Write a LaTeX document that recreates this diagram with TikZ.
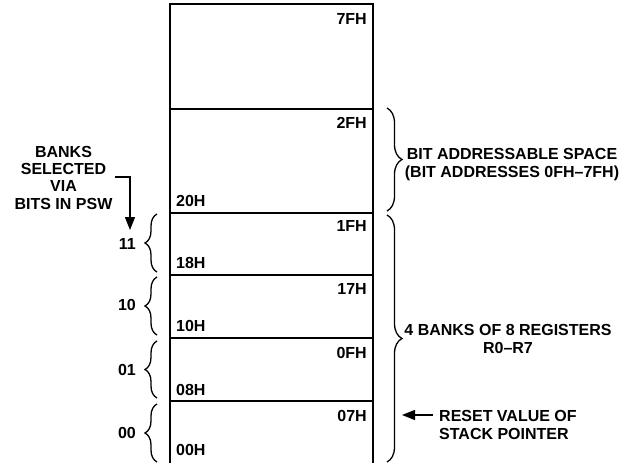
\documentclass[tikz,border=0pt]{standalone}
\usepackage{fontspec}
\setmainfont{Liberation Sans}
\usetikzlibrary{decorations.pathreplacing,arrows.meta}
\begin{document}
\begin{tikzpicture}[x=1pt,y=-1pt,
  lbl/.style={font=\fontsize{16}{17.3}\selectfont\bfseries, inner sep=0pt},
  wall/.style={line width=2.2pt},
  sep/.style={line width=1.5pt},
  brc/.style={line width=1.3pt, decorate, decoration={brace, amplitude=12pt}},
  rbrc/.style={line width=1.3pt, decorate, decoration={brace, amplitude=15pt}},
  arr/.style={line width=1.4pt, -{Triangle[length=13pt,width=10pt]}}]
\useasboundingbox (0,0) rectangle (635,463);
% memory column
\draw[wall] (170,470) -- (170,4) -- (373,4) -- (373,470);
\foreach \y in {109,213,275,338,401} \draw[sep] (170,\y) -- (373,\y);
% addresses
\node[lbl, anchor=base east] (a7f) at (367,24) {7FH};
\node[lbl, anchor=base east] (a2f) at (367,128) {2FH};
\node[lbl, anchor=base west] (a20) at (176,206) {20H};
\node[lbl, anchor=base east] (a1f) at (367,231) {1FH};
\node[lbl, anchor=base west] (a18) at (176,268) {18H};
\node[lbl, anchor=base east] (a17) at (367,294) {17H};
\node[lbl, anchor=base west] (a10) at (176,331) {10H};
\node[lbl, anchor=base east] (a0f) at (367,358) {0FH};
\node[lbl, anchor=base west] (a08) at (176,395) {08H};
\node[lbl, anchor=base east] (a07) at (367,421) {07H};
\node[lbl, anchor=base west] (a00) at (176,455) {00H};
% bank braces
\draw[brc] (157,272) -- (157,214);
\draw[brc] (157,335) -- (157,277);
\draw[brc] (157,398) -- (157,341);
\draw[brc] (157,462) -- (157,404);
\node[lbl, anchor=base east] (b11) at (136,249) {11};
\node[lbl, anchor=base east] (b10) at (136,310) {10};
\node[lbl, anchor=base east] (b01) at (136,375) {01};
\node[lbl, anchor=base east] (b00) at (136,438) {00};
% selection note
\node[lbl, align=center, anchor=north] (sel) at (63.5,146) {BANKS\\SELECTED\\VIA\\BITS IN PSW};
\coordinate (selend) at (130,230);
\draw[arr] (115,177) -| (selend);
% right braces
\draw[rbrc] (387,108) -- (387,211);
\draw[rbrc] (387,215) -- (387,462);
\node[lbl, align=center, anchor=north] (bas) at (512,148.5) {BIT ADDRESSABLE SPACE\\(BIT ADDRESSES 0FH–7FH)};
\node[lbl, align=center, anchor=north] (regs) at (508,324.5) {4 BANKS OF 8 REGISTERS\\R0–R7};
\node[lbl, align=left, anchor=north west] (rst) at (439,410.5) {RESET VALUE OF\\STACK POINTER};
\coordinate (rsttip) at (402,415);
\draw[arr] (433,415) -- (rsttip);
\end{tikzpicture}
\end{document}
